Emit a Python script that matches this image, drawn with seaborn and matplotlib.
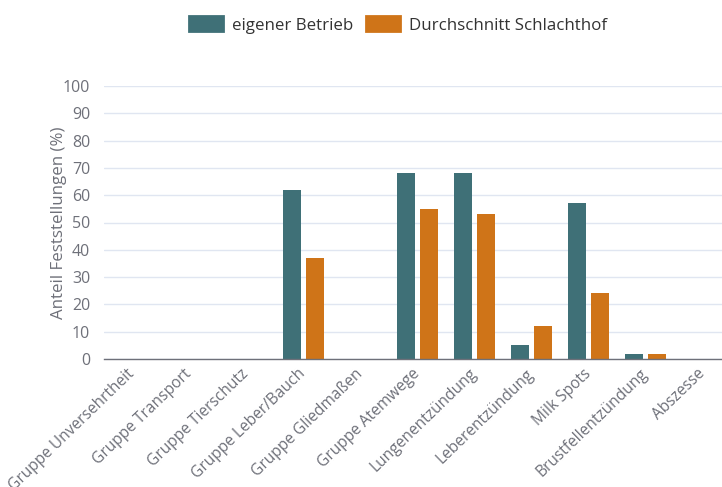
import numpy as np
import pandas as pd
import seaborn as sns
import matplotlib.pyplot as plt

# Data
kategorien = [
    "Gruppe Unversehrtheit", "Gruppe Transport", "Gruppe Tierschutz",
    "Gruppe Leber/Bauch", "Gruppe Gliedmaßen", "Gruppe Atemwege",
    "Lungenentzündung", "Leberentzündung", "Milk Spots",
    "Brustfellentzündung", "Abszesse",
]
eigener_betrieb = [0, 0, 0, 62, 0, 68, 68, 5, 57, 2, 0]
durchschnitt = [0, 0, 0, 37, 0, 55, 53, 12, 24, 2, 0]
serien = ["eigener Betrieb", "Durchschnitt Schlachthof"]
farben = ["#3f7077", "#cf7418"]

df = pd.DataFrame({
    "kategorie": kategorien * 2,
    "wert": eigener_betrieb + durchschnitt,
    "serie": [serien[0]] * len(kategorien) + [serien[1]] * len(kategorien),
})

sns.set_theme(style="white")
plt.rcParams["font.family"] = ["Open Sans", "DejaVu Sans"]

grau = "#6e7079"

fig = plt.figure(figsize=(7.22, 4.87), dpi=100)
ax = fig.add_axes([104 / 722, 1 - 359 / 487, 627 / 722, 273 / 487])

sns.barplot(
    data=df, x="kategorie", y="wert", hue="serie",
    palette=farben, saturation=1, width=0.8, gap=0.18, linewidth=0,
    ax=ax, legend=False, zorder=3,
)

ax.set_ylim(0, 100)
ax.set_xlim(-0.5, len(kategorien) - 0.5)
ax.set_yticks(np.arange(0, 101, 10))
ax.yaxis.grid(True, color="#e0e6f1", linewidth=1)
ax.set_axisbelow(True)

for s in ["top", "right", "left"]:
    ax.spines[s].set_visible(False)
ax.spines["bottom"].set_color(grau)
ax.spines["bottom"].set_linewidth(1)
ax.spines["bottom"].set_zorder(4)

ax.set_xticks(np.arange(-0.5, len(kategorien), 1), minor=True)
ax.tick_params(axis="x", which="minor", length=5, color=grau, width=1)
ax.tick_params(axis="x", which="major", length=0, pad=9)
ax.tick_params(axis="y", length=0, pad=10, labelsize=11.5, labelcolor=grau)
ax.set_xticks(range(len(kategorien)))
ax.set_xticklabels(kategorien, rotation=44, ha="right", va="center",
                   rotation_mode="anchor", fontsize=11.2, color=grau)

ax.set_xlabel("")
ax.set_ylabel("Anteil Feststellungen (%)", fontsize=12.2, color=grau, labelpad=-3)

# Legend at the top
handles = [plt.Rectangle((0, 0), 1, 1, facecolor=c, edgecolor=c,
                         linewidth=2, joinstyle="round") for c in farben]
fig.legend(handles, serien, loc="center", bbox_to_anchor=(398 / 722, 1 - 25 / 487),
           ncol=2, frameon=False, fontsize=12.2, handlelength=2.0,
           handleheight=1.0, handletextpad=0.5, columnspacing=0.8,
           labelcolor="#333333")

fig.savefig("out.png", dpi=100)
